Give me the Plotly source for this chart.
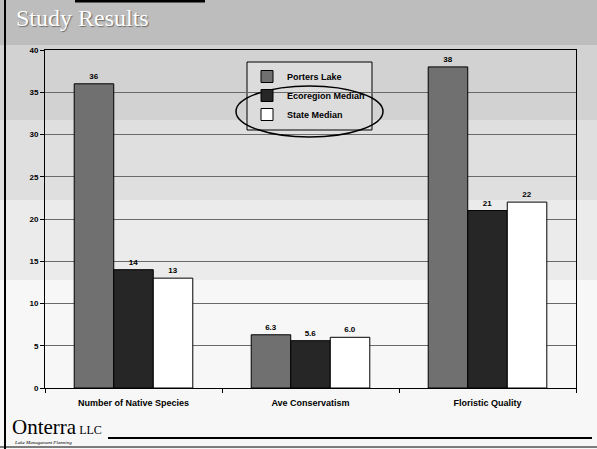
import plotly.graph_objects as go

# Study results: native plant community metrics
categories = ["Number of Native Species", "Ave Conservatism", "Floristic Quality"]
series_names = ["Porters Lake", "Ecoregion Median", "State Median"]
porters_lake = [36, 6.3, 38]
ecoregion_median = [14, 5.6, 21]
state_median = [13, 6.0, 22]
y_ticks = [0, 5, 10, 15, 20, 25, 30, 35, 40]

series_values = [porters_lake, ecoregion_median, state_median]
bar_colors = ["#707070", "#262626", "#ffffff"]

SANS = "Arial, Liberation Sans, sans-serif"
SERIF = "Times New Roman, Liberation Serif, serif"


def value_label(v):
    return f"{v:.1f}" if v < 10 else f"{v:.0f}"


fig = go.Figure()
for name, vals, color in zip(series_names, series_values, bar_colors):
    fig.add_trace(go.Bar(
        name=name,
        x=categories,
        y=vals,
        text=[value_label(v) for v in vals],
        textposition="outside",
        textfont=dict(family=SANS, size=8, color="black", weight="bold"),
        cliponaxis=False,
        marker=dict(color=color, line=dict(color="black", width=1)),
    ))

# Slide background: grey halftone fading toward the bottom
W, H = 597, 449
L, R, T, B = 45, 21, 50, 61
plot_h = H - T - B


def py(pix):
    """Convert a pixel row to paper y."""
    return (H - B - pix) / plot_h


def px(pix):
    """Convert a pixel column to paper x."""
    return (pix - L) / (W - L - R)


bands = [(0, 45, "#bdbdbd"), (45, 120, "#d2d2d2"), (120, 200, "#dfdfdf"),
         (200, 280, "#ebebeb"), (280, 449, "#f7f7f7")]
shapes = []
for y0, y1, c in bands:
    shapes.append(dict(type="rect", xref="paper", yref="paper",
                       x0=px(0), x1=px(W), y0=py(y1), y1=py(y0),
                       fillcolor=c, line=dict(width=0), layer="below"))

# Slide frame lines
shapes += [
    dict(type="line", xref="paper", yref="paper", x0=px(5), x1=px(5),
         y0=py(0), y1=py(449), line=dict(color="black", width=2)),
    dict(type="line", xref="paper", yref="paper", x0=px(75), x1=px(205),
         y0=py(1), y1=py(1), line=dict(color="black", width=3)),
    dict(type="line", xref="paper", yref="paper", x0=px(108), x1=px(592),
         y0=py(438), y1=py(438), line=dict(color="black", width=2)),
    dict(type="line", xref="paper", yref="paper", x0=px(0), x1=px(597),
         y0=py(447), y1=py(447), line=dict(color="black", width=1)),
]

# Legend panel: opaque fill over the gridlines, framed in black
LEG_X0, LEG_X1, LEG_Y0, LEG_Y1 = 247, 372, 62, 130
shapes.append(dict(type="rect", xref="paper", yref="paper",
                   x0=px(LEG_X0), x1=px(LEG_X1), y0=py(LEG_Y1), y1=py(LEG_Y0),
                   fillcolor="#dcdcdc", line=dict(color="black", width=1),
                   layer="between"))

# Hand-drawn ellipse around the median entries
shapes.append(dict(type="circle", xref="paper", yref="paper",
                   x0=px(236), x1=px(383), y0=py(137), y1=py(86),
                   line=dict(color="black", width=1.5), layer="above"))

annotations = [
    dict(text="Study Results", xref="paper", yref="paper",
         x=px(14), y=py(18), xanchor="left", yanchor="middle", showarrow=False,
         font=dict(family=SERIF, size=24, color="white",
                   shadow="1px 1px 1px #6a6a6a")),
    dict(text="Onterra<span style='font-size:12px'> LLC</span>",
         xref="paper", yref="paper", x=px(10), y=py(427),
         xanchor="left", yanchor="middle", showarrow=False,
         font=dict(family=SERIF, size=21, color="black")),
    dict(text="<i>Lake Management Planning</i>", xref="paper", yref="paper",
         x=px(12), y=py(442), xanchor="left", yanchor="middle", showarrow=False,
         font=dict(family=SERIF, size=5, color="black")),
]

fig.update_layout(
    width=W, height=H,
    margin=dict(l=L, r=R, t=T, b=B, pad=0),
    paper_bgcolor="white",
    plot_bgcolor="rgba(0,0,0,0)",
    barmode="group",
    bargap=0.33,
    bargroupgap=0,
    shapes=shapes,
    annotations=annotations,
    showlegend=True,
    legend=dict(
        x=px(LEG_X0), y=py(LEG_Y0), xanchor="left", yanchor="top",
        bgcolor="rgba(0,0,0,0)", borderwidth=0,
        font=dict(family=SANS, size=9, color="black", weight="bold"),
        tracegroupgap=0,
    ),
    font=dict(family=SANS, color="black"),
)

fig.update_yaxes(
    range=[0, 40], tickvals=y_ticks, ticks="outside", ticklen=4,
    tickcolor="black", showline=True, linecolor="black", linewidth=1,
    mirror=True, showgrid=True, gridcolor="#6a6a6a", gridwidth=1,
    zeroline=False,
    tickfont=dict(family=SANS, size=8, color="black", weight="bold"),
)
fig.update_xaxes(
    showline=True, linecolor="black", linewidth=1, mirror=True,
    ticks="outside", tickson="boundaries", ticklen=4, tickcolor="black",
    showgrid=False, ticklabelstandoff=6,
    tickfont=dict(family=SANS, size=9, color="black", weight="bold"),
)

fig.write_html("out.html")
